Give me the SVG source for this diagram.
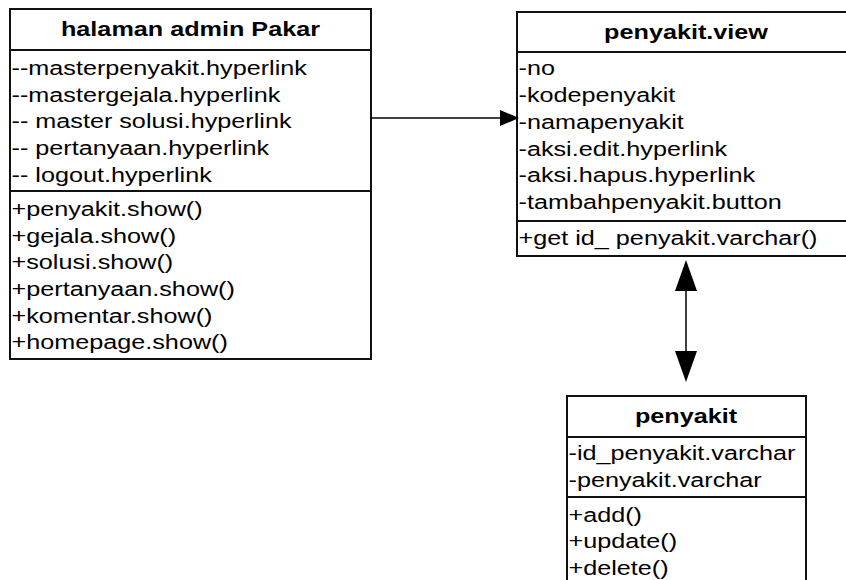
<svg xmlns="http://www.w3.org/2000/svg" width="846" height="580" viewBox="0 0 846 580">
<style>
.box{fill:#fff;stroke:#111;stroke-width:2}
.sep{stroke:#111;stroke-width:2}
.t{font-family:"Liberation Sans",Arial,sans-serif;font-size:21px;fill:#000}
.h{font-weight:bold;text-anchor:middle}
.conn{stroke:#000;stroke-width:1.5;fill:none}
</style>
<defs>
<marker id="headS" markerUnits="userSpaceOnUse" viewBox="0 0 19 16" refX="0" refY="8" markerWidth="19" markerHeight="16" orient="auto-start-reverse">
<path d="M0,0 L19,8 L0,16 z" fill="#000"/>
</marker>
<marker id="headL" markerUnits="userSpaceOnUse" viewBox="0 0 31 22" refX="0" refY="11" markerWidth="31" markerHeight="22" orient="auto-start-reverse">
<path d="M0,0 L31,11 L0,22 z" fill="#000"/>
</marker>
</defs>
<rect width="846" height="580" fill="#fff"/>

<g id="halaman-admin-pakar">
<rect class="box" x="10" y="9" width="361" height="350"/>
<line class="sep" x1="10" y1="50" x2="371" y2="50"/>
<line class="sep" x1="10" y1="191" x2="371" y2="191"/>
<g class="t" transform="scale(1.2 1)">
<text class="h" x="158.75" y="36.5">halaman admin Pakar</text>
<text x="9.6" y="75">--masterpenyakit.hyperlink</text>
<text x="9.6" y="101.7">--mastergejala.hyperlink</text>
<text x="9.6" y="128.4">-- master solusi.hyperlink</text>
<text x="9.6" y="155.1">-- pertanyaan.hyperlink</text>
<text x="9.6" y="181.8">-- logout.hyperlink</text>
<text x="9.6" y="216">+penyakit.show()</text>
<text x="9.6" y="242.7">+gejala.show()</text>
<text x="9.6" y="269.4">+solusi.show()</text>
<text x="9.6" y="296.1">+pertanyaan.show()</text>
<text x="9.6" y="322.8">+komentar.show()</text>
<text x="9.6" y="349.5">+homepage.show()</text>
</g>
</g>

<g id="penyakit-view">
<rect class="box" x="517" y="12" width="340" height="244"/>
<line class="sep" x1="517" y1="52" x2="857" y2="52"/>
<line class="sep" x1="517" y1="221" x2="857" y2="221"/>
<g class="t" transform="scale(1.2 1)">
<text class="h" x="571.7" y="39">penyakit.view</text>
<text x="432.1" y="75.5">-no</text>
<text x="432.1" y="102.2">-kodepenyakit</text>
<text x="432.1" y="128.9">-namapenyakit</text>
<text x="432.1" y="155.6">-aksi.edit.hyperlink</text>
<text x="432.1" y="182.3">-aksi.hapus.hyperlink</text>
<text x="432.1" y="209">-tambahpenyakit.button</text>
<text x="432.1" y="245.5">+get id_ penyakit.varchar()</text>
</g>
</g>

<g id="penyakit">
<rect class="box" x="567" y="396" width="239" height="200"/>
<line class="sep" x1="567" y1="437" x2="806" y2="437"/>
<line class="sep" x1="567" y1="497" x2="806" y2="497"/>
<g class="t" transform="scale(1.2 1)">
<text class="h" x="571.7" y="423.5">penyakit</text>
<text x="473.75" y="460">-id_penyakit.varchar</text>
<text x="473.75" y="486.7">-penyakit.varchar</text>
<text x="473.75" y="521.5">+add()</text>
<text x="473.75" y="548.2">+update()</text>
<text x="473.75" y="574.9">+delete()</text>
</g>
</g>

<g id="connectors">
<path class="conn" d="M371,118 L500,118" marker-end="url(#headS)"/>
<path class="conn" d="M686,291 L686,351" marker-start="url(#headL)" marker-end="url(#headL)"/>
</g>
</svg>
